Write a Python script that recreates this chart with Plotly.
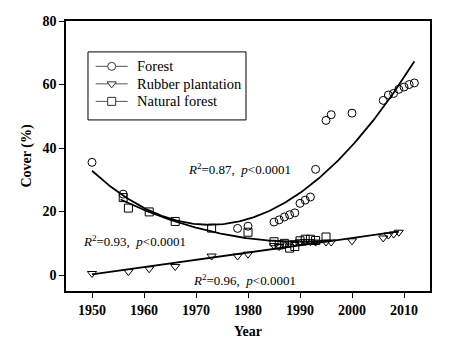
import numpy as np
import plotly.graph_objects as go

# Forest cover (%)
forest_year = [1950, 1956, 1978, 1980, 1985, 1986, 1987, 1988, 1989, 1990, 1991, 1992,
               1993, 1995, 1996, 2000, 2006, 2007, 2008, 2009, 2010, 2011, 2012]
forest_val = [35.5, 25.5, 14.7, 15.4, 16.7, 17.4, 18.3, 19.0, 19.6, 22.6, 23.6, 24.6,
              33.3, 48.7, 50.5, 51.0, 55.0, 56.7, 57.2, 58.5, 59.2, 60.0, 60.5]

# Rubber plantation cover (%)
rubber_year = [1950, 1957, 1961, 1966, 1973, 1978, 1980, 1985, 1986, 1987, 1988, 1989,
               1990, 1991, 1992, 1993, 1995, 1996, 2000, 2006, 2007, 2008, 2009]
rubber_val = [0.5, 1.1, 2.0, 2.7, 6.0, 6.0, 6.6, 9.3, 9.0, 9.5, 10.0, 10.2,
              10.5, 10.6, 10.5, 10.4, 10.4, 10.4, 10.8, 11.7, 12.6, 12.9, 13.5]

# Natural forest cover (%)
natural_year = [1956, 1957, 1961, 1966, 1973, 1980, 1985, 1986, 1987, 1988, 1989,
                1990, 1991, 1992, 1993, 1995]
natural_val = [24.4, 21.1, 19.9, 16.9, 14.8, 13.5, 10.5, 9.5, 10.0, 8.5, 9.0,
               10.8, 11.3, 11.3, 10.9, 12.0]

series_names = ["Forest", "Rubber plantation", "Natural forest"]
x_ticks = [1950, 1960, 1970, 1980, 1990, 2000, 2010]
y_ticks = [0, 20, 40, 60, 80]

SERIF = "Liberation Serif, Times New Roman, serif"

def fit_curve(xs, ys, deg, x0, x1):
    xs = np.asarray(xs, float)
    ys = np.asarray(ys, float)
    c = np.polyfit(xs - 1980, ys, deg)
    xx = np.linspace(x0, x1, 200)
    return xx, np.polyval(c, xx - 1980)

fig = go.Figure()

fx, fy = fit_curve(forest_year, forest_val, 2, 1950, 2012)
nx, ny = fit_curve(natural_year, natural_val, 2, 1955.5, 1995)
rx, ry = fit_curve(rubber_year, rubber_val, 1, 1950, 2009)

for xx, yy in [(fx, fy), (nx, ny), (rx, ry)]:
    fig.add_trace(go.Scatter(x=xx, y=yy, mode="lines", line=dict(color="black", width=1.8),
                             showlegend=False, hoverinfo="skip"))

symbols = ["circle-open", "triangle-down-open", "square-open"]
for (xs, ys), sym in zip([(forest_year, forest_val), (rubber_year, rubber_val),
                          (natural_year, natural_val)], symbols):
    fig.add_trace(go.Scatter(x=xs, y=ys, mode="markers", showlegend=False,
                             marker=dict(symbol=sym, color="black", size=8,
                                         line=dict(color="black", width=1))))

# ---- manual legend (paper coordinates of the plot area) ----
box = dict(x0=0.0604, x1=0.4945, y0=0.6336, y1=0.8855)
rows_y = [0.8321, 0.7672, 0.7023]
fig.add_shape(type="rect", xref="paper", yref="paper", layer="below",
              line=dict(color="black", width=1), fillcolor="white", **box)
for yv in rows_y:
    fig.add_shape(type="line", xref="paper", yref="paper", layer="below",
                  x0=0.0816, x1=0.1695, y0=yv, y1=yv, line=dict(color="#555", width=1))
fig.add_trace(go.Scatter(x=[0.1255] * 3, y=rows_y, xaxis="x2", yaxis="y2",
                         mode="markers", showlegend=False, hoverinfo="skip",
                         marker=dict(symbol=[s.replace("-open", "") for s in symbols],
                                     color="white", size=8,
                                     line=dict(color="#333", width=1))))
for name, yv in zip(series_names, rows_y):
    fig.add_annotation(xref="paper", yref="paper", x=0.1923, y=yv, xanchor="left",
                       yanchor="middle", text=name, showarrow=False, borderpad=0,
                       font=dict(family=SERIF, size=14.5, color="black"))

ann_font = dict(family=SERIF, size=13, color="black")
fig.add_annotation(x=1978.3, y=33.3, text="<i>R</i><sup>2</sup>=0.87,  <i>p</i>&lt;0.0001",
                   showarrow=False, font=ann_font)
fig.add_annotation(x=1958.1, y=10.6, text="<i>R</i><sup>2</sup>=0.93,  <i>p</i>&lt;0.0001",
                   showarrow=False, font=ann_font)
fig.add_annotation(x=1979.4, y=-1.4, text="<i>R</i><sup>2</sup>=0.96,  <i>p</i>&lt;0.0001",
                   showarrow=False, font=ann_font)

axis_common = dict(showgrid=False, zeroline=False, showline=True, linecolor="black",
                   linewidth=1.5, mirror=True, ticks="outside", ticklen=5,
                   tickwidth=1, tickcolor="black", automargin=False,
                   tickfont=dict(family=SERIF, size=14, color="black", weight="bold"))

# the page body adds an 8px offset, so the figure is sized/margined to compensate
fig.update_layout(
    width=449, height=333,
    margin=dict(l=58, r=27, t=13, b=50),
    paper_bgcolor="white", plot_bgcolor="white",
    font=dict(family=SERIF, color="black"),
    showlegend=False,
    xaxis=dict(range=[1945, 2015], tickvals=x_ticks,
               title=dict(text="<b>Year</b>", font=dict(family=SERIF, size=14), standoff=10),
               **axis_common),
    yaxis=dict(range=[-5, 80], tickvals=y_ticks,
               title=dict(text="<b>Cover (%)</b>", font=dict(family=SERIF, size=14), standoff=8),
               **axis_common),
    xaxis2=dict(overlaying="x", range=[0, 1], visible=False, fixedrange=True),
    yaxis2=dict(overlaying="y", range=[0, 1], visible=False, fixedrange=True),
)

fig.write_html("out.html")
